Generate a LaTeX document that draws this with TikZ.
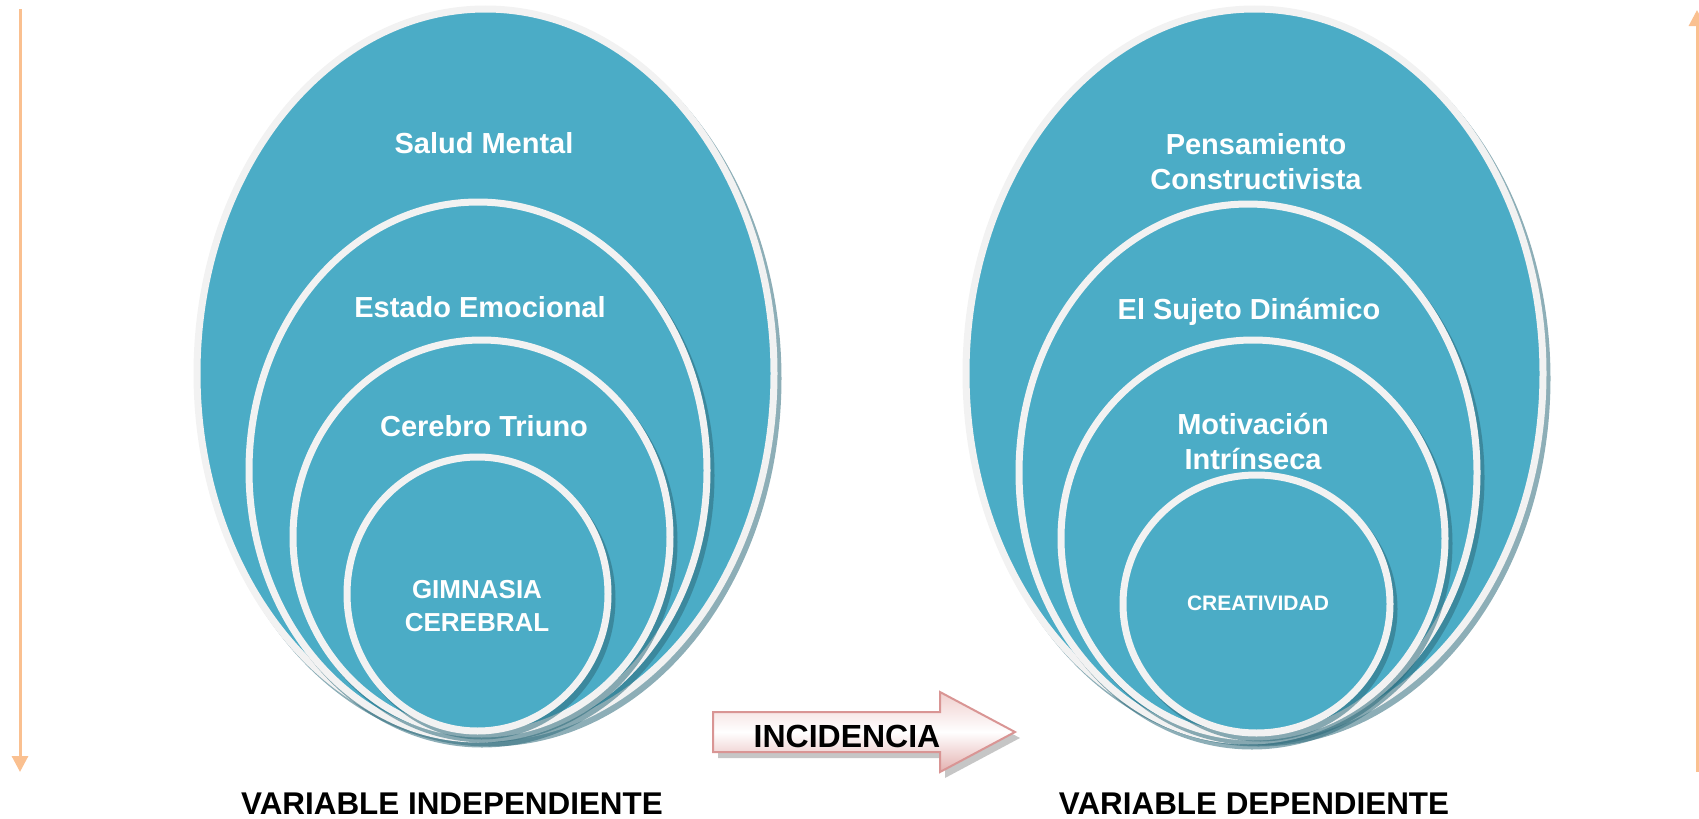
\documentclass[tikz,border=0pt]{standalone}
\usepackage{fontspec}
\setmainfont{Liberation Sans}
\usetikzlibrary{arrows.meta}
\definecolor{ringblue}{HTML}{4BACC6}
\definecolor{ringwhite}{HTML}{F2F2F2}
\definecolor{ringshade}{HTML}{2F6C7C}
\definecolor{sidearrow}{HTML}{FAC090}
\definecolor{pinkline}{HTML}{D99594}
\definecolor{pinktop}{HTML}{F0CFCE}
\definecolor{pinkbot}{HTML}{E3B0AF}
\tikzset{
	ring/.style={fill=ringblue, draw=ringwhite, line width=3.5pt},
	ringshadow/.style={fill=ringshade, opacity=.55},
	lbl/.style={text=white, anchor=base, inner sep=0pt, align=center, font=\bfseries\fontsize{14.5}{17.5}\selectfont},
	caption/.style={anchor=base, inner sep=0pt, font=\bfseries\fontsize{15.7}{18}\selectfont},
	side/.style={draw=sidearrow, line width=1.5pt, -{Triangle[length=8pt,width=8pt]}},
}

\begin{document}
\begin{tikzpicture}[x=0.5pt, y=-0.5pt]
		\useasboundingbox (0,0) rectangle (1699,819);
		
		\foreach \cx/\cy/\rx/\ry in {485.5/373.5/288.5/364.5, 478/470.5/229/268.5, 481.5/537/188.5/197, 477.5/594/130.5/137,
				1254.5/373.5/288.5/364.5, 1248/472.5/229/268.5, 1253/538.5/192/198.5, 1256.5/604/133.5/129} {
			\fill[ringshadow] (\cx+4,\cy+5) ellipse [x radius=\rx*0.5pt+1.75pt, y radius=\ry*0.5pt+1.75pt];
			\draw[ring] (\cx,\cy) ellipse [x radius=\rx*0.5pt, y radius=\ry*0.5pt];
		}
		
		\node[lbl] (salud) at (484,153) {Salud Mental};
		\node[lbl] (estado) at (480,317) {Estado Emocional};
		\node[lbl] (cerebro) at (484,436) {Cerebro Triuno};
		\node[lbl, font=\bfseries\fontsize{13}{16.5}\selectfont] (gimnasia) at (477,631) {GIMNASIA\\CEREBRAL};
		\node[lbl] (pensamiento) at (1256,189) {Pensamiento\\Constructivista};
		\node[lbl] (sujeto) at (1249,319) {El Sujeto Dinámico};
		\node[lbl] (motivacion) at (1253,469) {Motivación\\Intrínseca};
		\node[lbl, font=\bfseries\fontsize{10.5}{12}\selectfont] (creatividad) at (1258,610) {CREATIVIDAD};
		
		\fill[gray, opacity=.45] (718,718) -- (945,718) -- (945,698) -- (1020,738) -- (945,778) -- (945,758) -- (718,758) -- cycle;
		\draw[pinkline, line width=1pt, top color=pinktop, bottom color=pinkbot, middle color=white]
			(713,712) -- (940,712) -- (940,692) -- (1015,732) -- (940,772) -- (940,752) -- (713,752) -- cycle;
		\node[caption, font=\bfseries\fontsize{16}{19}\selectfont] (incid) at (847,747) {INCIDENCIA};
		
		\node[caption] (varind) at (452,814) {VARIABLE INDEPENDIENTE};
		\node[caption] (vardep) at (1254,814) {VARIABLE DEPENDIENTE};
		
		\coordinate (ltop) at (20,9);
		\coordinate (lbot) at (20,772);
		\draw[side] (ltop) -- (lbot);
		\coordinate (rbot) at (1697,772);
		\coordinate (rtop) at (1697,10);
		\draw[side] (rbot) -- (rtop);
	\end{tikzpicture}
\end{document}
